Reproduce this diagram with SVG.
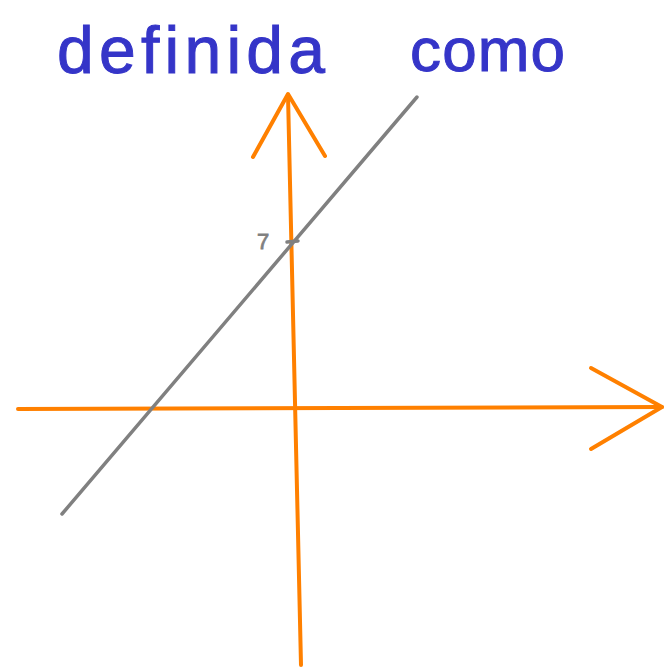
<svg xmlns="http://www.w3.org/2000/svg" width="669" height="668" viewBox="0 0 669 668">
<style>
.axis{stroke:#ff8000;stroke-width:4;fill:none;stroke-linecap:round;stroke-linejoin:round}
.line{stroke:#808080;stroke-width:3.5;fill:none;stroke-linecap:round}
.title{font-family:"Liberation Sans",Arial,sans-serif;fill:#3535c8;stroke:#3535c8;stroke-width:1}
.label{font-family:"Liberation Sans",Arial,sans-serif;font-size:22px;fill:#808080;stroke:#808080;stroke-width:0.8}
</style>
<rect width="669" height="668" fill="#ffffff"/>
<g id="title">
<text class="title" x="57" y="73" font-size="66" textLength="268" lengthAdjust="spacing">definida</text>
<text class="title" x="410" y="71" font-size="62" textLength="155" lengthAdjust="spacing">como</text>
</g>
<g id="connectors">
<g id="x-axis">
<path class="axis" d="M18,409 L662,407"/>
<path class="axis" d="M591,368 L662,407 L591,449"/>
</g>
<g id="y-axis">
<path class="axis" d="M301,665 L288,95"/>
<path class="axis" d="M253,157 L288,94 L325,156"/>
</g>
<g id="line">
<path class="line" d="M62,514 L417,97"/>
</g>
</g>
<g id="intercept">
<text class="label" x="257" y="249">7</text>
<path class="line" d="M287,242 L298,241" stroke-width="3"/>
</g>
</svg>
